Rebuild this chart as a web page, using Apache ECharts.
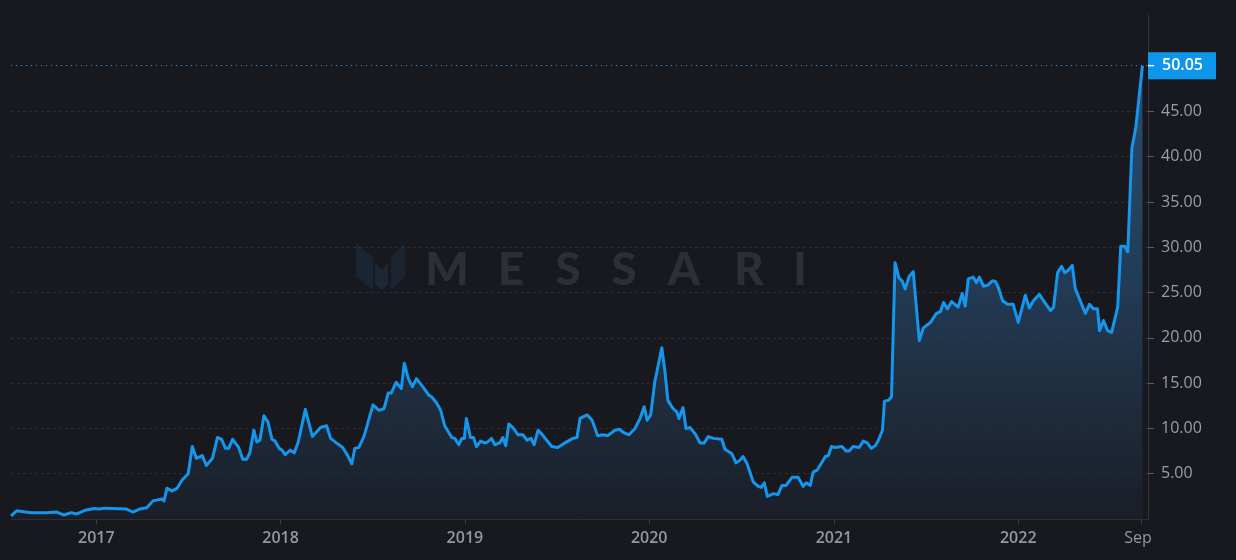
<!DOCTYPE html>
<html>
<head>
<meta charset="utf-8">
<script src="https://cdn.jsdelivr.net/npm/echarts@6/dist/echarts.min.js"></script>
<style>
  html,body{margin:0;padding:0;background:#18191e;}
  #chart{width:1236px;height:560px;}
</style>
</head>
<body>
<div id="chart"></div>
<script>
// ---- Data ----
const dates = [
 '2016-07-16','2016-07-27','2016-08-14','2016-08-26','2016-09-23','2016-10-15','2016-10-29','2016-11-12','2016-11-22','2016-12-12','2016-12-28',
 '2017-01-07','2017-01-17','2017-03-02','2017-03-14','2017-03-28','2017-04-11','2017-04-23','2017-05-11','2017-05-15','2017-05-21','2017-05-31',
 '2017-06-10','2017-06-20','2017-07-02','2017-07-10','2017-07-18','2017-07-30','2017-08-07','2017-08-19','2017-08-29','2017-09-06','2017-09-14',
 '2017-09-20','2017-09-28','2017-10-10','2017-10-18','2017-10-26','2017-11-01','2017-11-09','2017-11-15','2017-11-21','2017-11-29','2017-12-07',
 '2017-12-15','2017-12-21','2017-12-29',
 '2018-01-04','2018-01-10','2018-01-20','2018-01-28','2018-02-05','2018-02-19','2018-03-05','2018-03-21','2018-04-02','2018-04-10','2018-04-24',
 '2018-05-04','2018-05-14','2018-05-22','2018-05-28','2018-06-05','2018-06-15','2018-07-03','2018-07-15','2018-07-25','2018-08-02','2018-08-08',
 '2018-08-18','2018-08-28','2018-09-03','2018-09-11','2018-09-19','2018-09-27','2018-10-11','2018-10-21','2018-10-27','2018-11-06','2018-11-14',
 '2018-11-22','2018-12-06','2018-12-12','2018-12-20','2018-12-26','2018-12-31',
 '2019-01-04','2019-01-12','2019-01-18','2019-01-24','2019-02-01','2019-02-09','2019-02-15','2019-02-23','2019-03-01','2019-03-11','2019-03-17',
 '2019-03-23','2019-03-29','2019-04-06','2019-04-16','2019-04-26','2019-05-04','2019-05-12','2019-05-18','2019-05-26','2019-06-02','2019-06-12',
 '2019-06-22','2019-07-04','2019-07-18','2019-08-03','2019-08-11','2019-08-17','2019-08-31','2019-09-10','2019-09-21','2019-10-01','2019-10-11',
 '2019-10-25','2019-11-04','2019-11-10','2019-11-22','2019-12-04','2019-12-14','2019-12-22','2019-12-28',
 '2020-01-04','2020-01-12','2020-01-26','2020-02-01','2020-02-07','2020-02-17','2020-02-25','2020-02-29','2020-03-08','2020-03-14','2020-03-22',
 '2020-04-01','2020-04-11','2020-04-19','2020-04-27','2020-05-07','2020-05-24','2020-05-30','2020-06-13','2020-06-21','2020-06-29','2020-07-05',
 '2020-07-13','2020-07-25','2020-08-04','2020-08-10','2020-08-16','2020-08-22','2020-09-03','2020-09-12','2020-09-20','2020-09-28','2020-10-10',
 '2020-10-22','2020-11-01','2020-11-07','2020-11-15','2020-11-21','2020-11-29','2020-12-15','2020-12-21','2020-12-27',
 '2021-01-03','2021-01-17','2021-01-25','2021-01-31','2021-02-08','2021-02-20','2021-02-28','2021-03-08','2021-03-16','2021-03-24','2021-03-30',
 '2021-04-07','2021-04-11','2021-04-19','2021-04-25','2021-05-02','2021-05-10','2021-05-16','2021-05-22','2021-05-30','2021-06-07','2021-06-19',
 '2021-06-27','2021-07-11','2021-07-23','2021-07-31','2021-08-06','2021-08-14','2021-08-22','2021-09-04','2021-09-12','2021-09-18','2021-09-24',
 '2021-10-04','2021-10-10','2021-10-16','2021-10-24','2021-11-01','2021-11-11','2021-11-17','2021-11-23','2021-12-01','2021-12-11','2021-12-22',
 '2022-01-01','2022-01-15','2022-01-23','2022-01-31','2022-02-12','2022-02-20','2022-03-06','2022-03-12','2022-03-20','2022-03-28','2022-04-03',
 '2022-04-09','2022-04-18','2022-04-24','2022-04-30','2022-05-14','2022-05-22','2022-05-30','2022-06-07','2022-06-11','2022-06-19','2022-06-27',
 '2022-07-05','2022-07-17','2022-07-23','2022-07-31','2022-08-06','2022-08-14','2022-08-22','2022-09-04'
];
const values = [
 0.33,0.9,0.77,0.7,0.7,0.77,0.44,0.7,0.55,1.0,1.17,
 1.1,1.2,1.1,0.77,1.1,1.24,2.0,2.2,2.0,3.4,3.1,
 3.4,4.3,5.0,8.0,6.7,7.0,5.9,6.7,9.0,8.8,7.8,
 7.8,8.8,7.9,6.6,6.6,7.3,9.8,8.5,8.7,11.4,10.7,
 8.8,8.6,7.8,
 7.6,7.1,7.6,7.3,8.5,12.1,9.1,10.1,10.3,8.9,8.3,
 7.9,7.0,6.1,7.8,7.9,9.1,12.6,12.0,12.2,13.9,13.9,
 15.1,14.4,17.2,15.5,14.6,15.5,14.5,13.7,13.5,12.8,12.0,
 10.3,9.0,8.9,8.2,8.9,8.9,
 11.1,9.0,9.0,8.0,8.6,8.4,8.5,8.9,8.2,8.4,9.0,
 8.1,10.5,10.1,9.3,9.3,8.7,8.9,8.2,9.8,9.4,8.7,
 8.0,7.9,8.4,8.9,9.0,11.1,11.5,10.9,9.2,9.3,9.2,
 9.8,9.9,9.6,9.3,10.0,11.1,12.4,10.9,
 11.5,15.1,18.9,16.4,13.1,12.2,11.8,11.1,12.3,10.0,10.1,
 9.4,8.4,8.4,9.1,8.9,8.8,7.7,7.2,6.2,6.5,6.9,
 6.1,4.1,3.6,3.5,4.0,2.5,2.8,2.7,3.7,3.7,4.6,
 4.6,3.6,4.0,3.7,5.2,5.4,6.9,7.0,8.0,
 7.9,8.0,7.5,7.5,8.0,7.9,8.6,8.4,7.8,8.1,8.7,
 9.8,13.0,13.1,13.5,28.3,26.6,26.3,25.4,26.8,27.3,19.7,
 21.1,21.7,22.7,22.9,23.9,23.2,24.0,23.4,24.9,23.5,26.5,
 26.7,26.1,26.7,25.7,25.8,26.3,26.2,25.5,24.1,23.7,23.7,
 21.7,24.7,23.3,24.1,24.8,24.1,23.0,23.4,27.2,27.9,27.2,
 27.4,28.0,25.4,24.6,22.7,23.7,23.2,23.2,20.8,21.9,20.8,
 20.6,23.4,30.1,30.1,29.5,40.9,43.3,50.05
];
const lastValue = 50.05;
const yTickValues = [5, 10, 15, 20, 25, 30, 35, 40, 45];
const xTickDates = ['2017-01-01','2018-01-01','2019-01-01','2020-01-01','2021-01-01','2022-01-01','2022-09-01'];
const xMin = '2016-07-16';
const xMax = '2022-09-15';
const watermarkLetters = ['M','E','S','S','A','R','I'];

// ---- Build ----
function ts(s){ const p = s.split('-').map(Number); return new Date(p[0], p[1]-1, p[2]).getTime(); }
const seriesData = dates.map((d, i) => [ts(d), values[i]]);
const xTicks = xTickDates.map(ts);
const monthNames = ['Jan','Feb','Mar','Apr','May','Jun','Jul','Aug','Sep','Oct','Nov','Dec'];

const letterX = [447, 511, 568, 624, 684, 749, 800];
const wmGraphics = watermarkLetters.map((ch, i) => ({
  type: 'text', x: letterX[i], y: 247, z: 0, silent: true,
  style: { text: ch, fill: '#2d2f35', font: '900 46px Lato', align: 'center', verticalAlign: 'top' }
}));

const chart = echarts.init(document.getElementById('chart'), null, {renderer: 'canvas'});
chart.setOption({
  backgroundColor: '#18191e',
  animation: false,
  grid: { left: 11, right: 88, top: 15, bottom: 41, containLabel: false },
  xAxis: {
    type: 'value', min: ts(xMin), max: ts(xMax), scale: true,
    axisLine: { show: true, lineStyle: { color: '#2c2f38', width: 1 } },
    axisTick: { show: true, length: 5, lineStyle: { color: '#3a3e48' }, customValues: xTicks },
    axisLabel: {
      customValues: xTicks, margin: 11, color: '#9397a2', fontSize: 16, fontWeight: 600,
      fontFamily: 'Open Sans',
      formatter: function (v) {
        const d = new Date(v);
        if (d.getMonth() === 0) return String(d.getFullYear());
        return '{m|' + monthNames[d.getMonth()] + '}';
      },
      rich: { m: { color: '#9397a2', fontSize: 16, fontWeight: 500, fontFamily: 'Open Sans', padding: [0, 6, 0, 0] } }
    },
    splitLine: { show: false }
  },
  yAxis: {
    type: 'value', position: 'right', min: 0, max: 55.64,
    axisLine: { show: true, lineStyle: { color: '#30343e', width: 1 } },
    axisTick: { show: true, length: 6, lineStyle: { color: '#5a5e69' }, customValues: yTickValues },
    axisLabel: {
      customValues: yTickValues, margin: 13, color: '#9a9ea8', fontSize: 16, fontFamily: 'Open Sans',
      formatter: v => v.toFixed(2)
    },
    splitLine: { show: true, lineStyle: { color: '#2c2e36', type: [3, 3], width: 1 } }
  },
  graphic: [
    { type: 'polygon', silent: true, z: 0, shape: { points: [[356,243],[373,257],[373,290],[356,277]] }, style: { fill: '#1b2532' } },
    { type: 'polygon', silent: true, z: 0, shape: { points: [[375,263],[382,270],[388,263],[388,284],[382,290],[375,284]] }, style: { fill: '#1d2836' } },
    { type: 'polygon', silent: true, z: 0, shape: { points: [[391,256],[405,243],[405,277],[391,290]] }, style: { fill: '#1b2532' } }
  ].concat(wmGraphics),
  series: [{
    type: 'line', data: seriesData, showSymbol: false, symbol: 'none', z: 3,
    lineStyle: { color: '#1596ec', width: 3, join: 'round' },
    areaStyle: {
      color: new echarts.graphic.LinearGradient(0, 0, 0, 1, [
        { offset: 0, color: '#2f6395' },
        { offset: 0.45, color: '#284c70' },
        { offset: 0.75, color: '#21344a' },
        { offset: 1, color: '#1b202b' }
      ])
    },
    markLine: {
      silent: true, symbol: ['none', 'none'], animation: false,
      lineStyle: { color: '#2a8fd6', type: [1, 4], width: 1 },
      data: [{ yAxis: lastValue }],
      label: {
        show: true, position: 'end', distance: 0,
        formatter: '{t|}{v|' + lastValue.toFixed(2) + '}',
        backgroundColor: '#0e96eb', padding: [5, 13, 5, 0],
        rich: {
          t: { width: 6, height: 1.5, backgroundColor: '#ffffff' },
          v: { color: '#ffffff', fontSize: 16, fontWeight: 600, fontFamily: 'Open Sans', padding: [0, 0, 0, 8], lineHeight: 17 }
        }
      }
    }
  }]
});
</script>
</body>
</html>
